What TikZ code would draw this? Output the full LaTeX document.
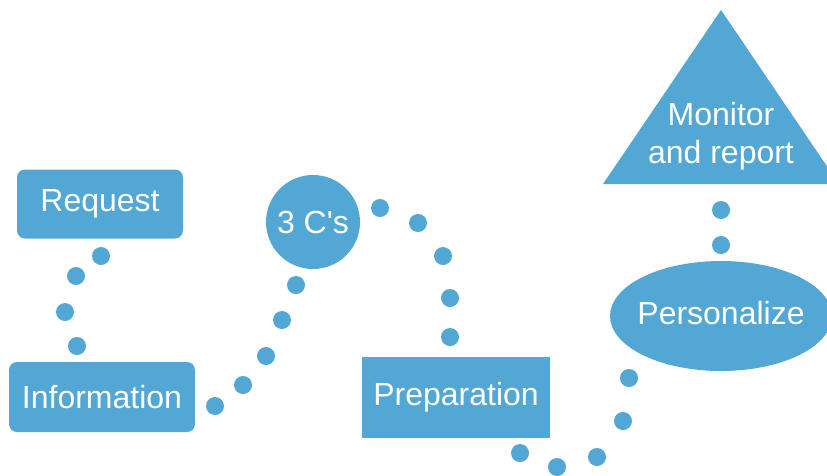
\documentclass[tikz,border=0pt]{standalone}
\usepackage{fontspec}
\setmainfont{Liberation Sans}
\usepackage{tikz}
\usetikzlibrary{shapes.geometric}
\definecolor{stepblue}{RGB}{83,167,213}

\begin{document}
\begin{tikzpicture}[x=1pt, y=-1pt]
      %shared looks of the shapes and the dots
      \tikzset{
      stage/.style={fill=stepblue, text=white, inner sep=0pt,
        font=\fontsize{32}{38}\selectfont},
      roundbox/.style={stage, rectangle, rounded corners=8pt},
      sharpbox/.style={stage, rectangle},
      dotfill/.style={fill=stepblue},
      }
      \useasboundingbox (0,0) rectangle (827,475);

      %left column
      \node[roundbox, minimum width=166pt, minimum height=69pt] (request) at (100,204) {Request};
      \node[roundbox, minimum width=186pt, minimum height=70pt] (info) at (102,397) {Information};
      %middle
      \node[stage, circle, minimum size=94pt] (cs) at (313,222) {3 C\textquotesingle s};
      \node[sharpbox, minimum width=188pt, minimum height=81pt] (prep) at (456,397.5) {Preparation};
      %right column
      \fill[stepblue] (721,316) ellipse [x radius=111pt, y radius=55pt];
      \node[stage, fill=none] (pers) at (721,313) {Personalize};
      \fill[stepblue] (721,10) -- (603,184) -- (839,184) -- cycle;
      \node[stage, fill=none, align=center] (monitor) at (721,136) {Monitor\\and report};

      %dotted trails
      \foreach \p in {(101,256),(76,276),(65,312),(77,346)}
        \fill[dotfill] \p circle (9pt);
      \foreach \p in {(215,406),(243,385),(266,356),(282,320),(296,285)}
        \fill[dotfill] \p circle (9pt);
      \foreach \p in {(380,208),(418,223),(443,256),(450,298),(450,337)}
        \fill[dotfill] \p circle (9pt);
      \foreach \p in {(520,453),(557,467),(597,457),(623,421),(629,378)}
        \fill[dotfill] \p circle (9pt);
      \foreach \p in {(721,210),(721,245)}
        \fill[dotfill] \p circle (9pt);
\end{tikzpicture}
\end{document}
